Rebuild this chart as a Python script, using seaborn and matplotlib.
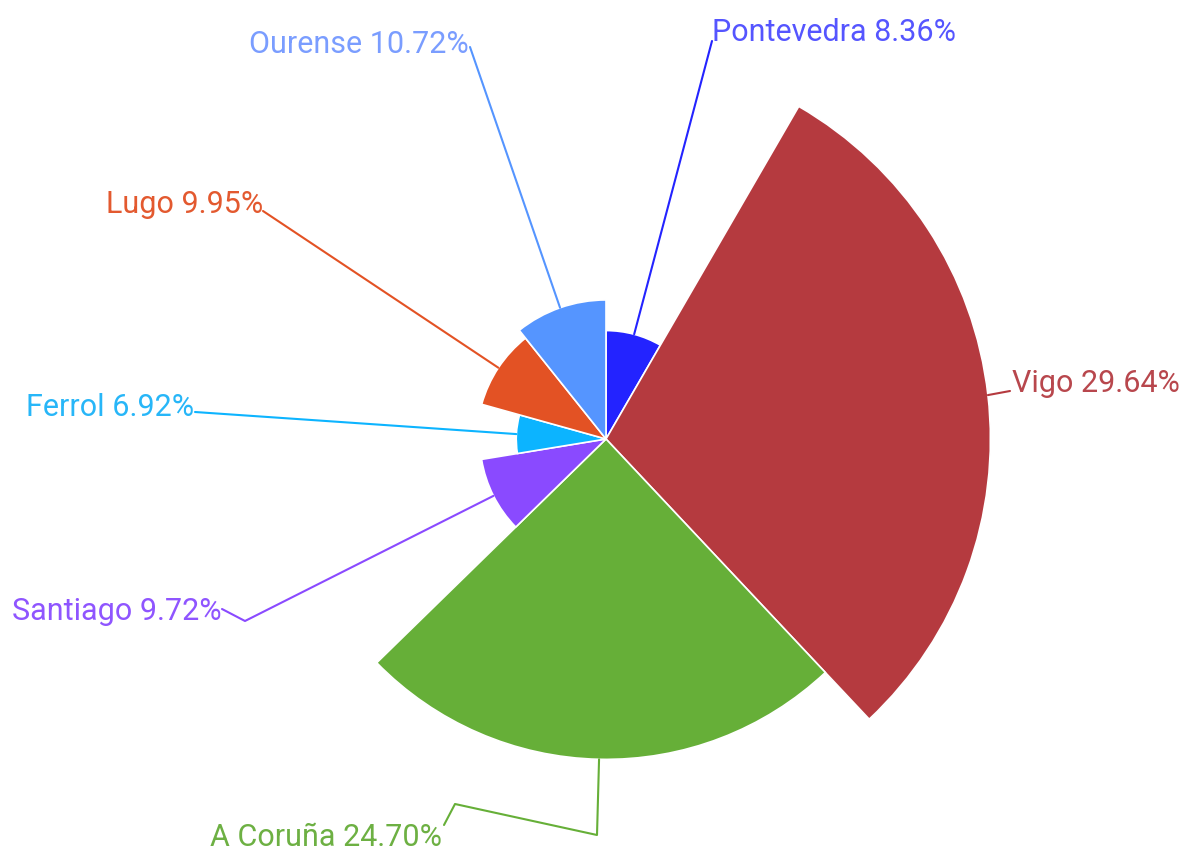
import numpy as np
import seaborn as sns
import matplotlib.pyplot as plt

# shares per city (clockwise from 12 o'clock)
cities = ["Pontevedra", "Vigo", "A Coruña", "Santiago", "Ferrol", "Lugo", "Ourense"]
shares = [8.36, 29.64, 24.70, 9.72, 6.92, 9.95, 10.72]
slice_colors = ["#2323FF", "#B53A3F", "#66AF38", "#8A4AFF", "#0CB4FF", "#E35224", "#5595FF"]
text_colors = ["#5555FF", "#B8474D", "#6DB043", "#8F55FF", "#27B6F8", "#E3592F", "#7A9DFF"]

sns.set_style("white")
plt.rcParams["font.family"] = ["Roboto", "DejaVu Sans"]

pal = sns.color_palette(slice_colors)

fig = plt.figure(figsize=(11.85, 8.53), dpi=100)
rpx = 400
cx, cy = 606, 440
ax = fig.add_axes([(cx - rpx) / 1185, (853 - cy - rpx) / 853, 2 * rpx / 1185, 2 * rpx / 853],
                  projection="polar")
ax.set_theta_zero_location("N")
ax.set_theta_direction(-1)

vals = np.array(shares)
widths = vals / vals.sum() * 2 * np.pi
starts = np.concatenate([[0], np.cumsum(widths)[:-1]])
ax.bar(starts, vals, width=widths, bottom=0, align="edge", color=pal,
       edgecolor="white", linewidth=1.2)
ax.set_ylim(0, rpx / 12.97)
ax.set_axis_off()

# overlay in pixel coords for leader lines
ov = fig.add_axes([0, 0, 1, 1])
ov.set_xlim(0, 1185)
ov.set_ylim(853, 0)
ov.set_axis_off()

# label layout: elbow points after the anchor, text position, alignment
layout = {
    "Pontevedra": ([(712, 42)], (712, 32), "left"),
    "Vigo": ([(1010, 392)], (1012, 383), "left"),
    "A Coruña": ([(597, 836), (455, 805), (444, 826)], (442, 838), "right"),
    "Santiago": ([(245, 622), (222, 610)], (222, 611), "right"),
    "Ferrol": ([(195, 413)], (194, 408), "right"),
    "Lugo": ([(263, 212)], (263, 204), "right"),
    "Ourense": ([(470, 48)], (469, 44), "right"),
}

fig.canvas.draw()
for i, name in enumerate(cities):
    mid = starts[i] + widths[i] / 2
    px, py = ax.transData.transform((mid, vals[i]))
    pts, (tx, ty), ha = layout[name]
    xs = [px] + [p[0] for p in pts]
    ys = [853 - py] + [p[1] for p in pts]
    ov.plot(xs, ys, color=slice_colors[i], lw=1.5)
    ov.text(tx, ty, f"{name} {shares[i]:.2f}%", color=text_colors[i],
            fontsize=22, ha=ha, va="center")

plt.savefig("out.png", dpi=100)
